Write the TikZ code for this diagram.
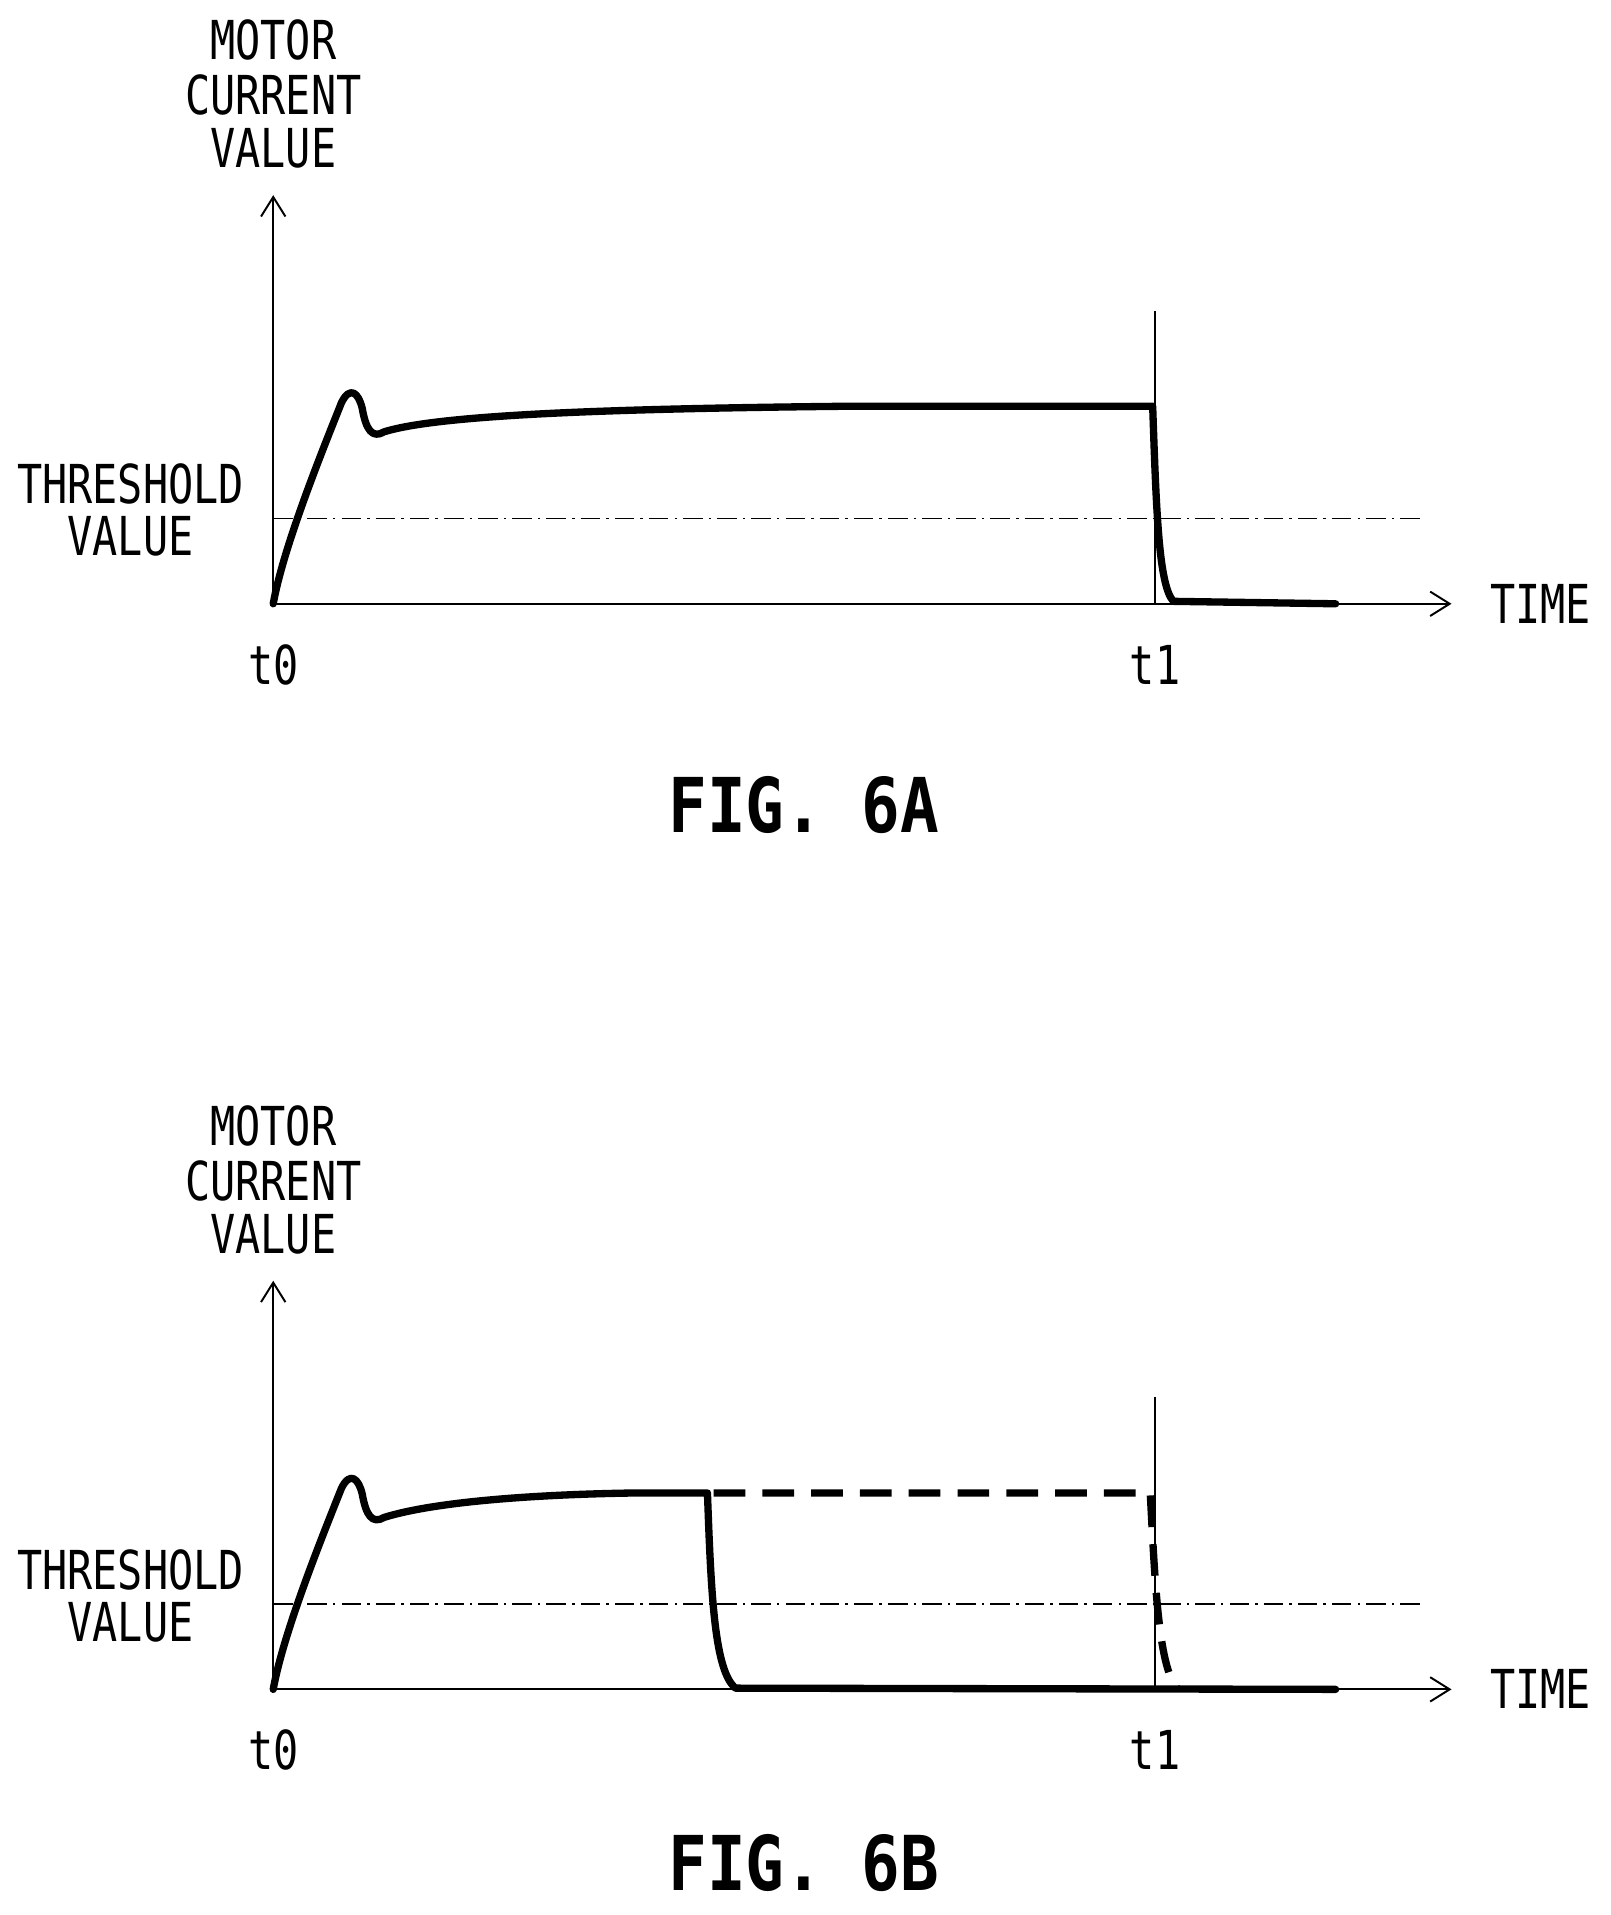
\documentclass[tikz,border=0pt]{standalone}
\usepackage{fontspec}
\setmainfont{DejaVu Sans Mono}
\usetikzlibrary{arrows.meta}
\begin{document}
\begin{tikzpicture}[x=1pt,y=-1pt,
 lbl/.style={font=\fontsize{44}{50}\selectfont, xscale=0.78, inner sep=0},
 fig/.style={font=\fontsize{62}{66}\selectfont\bfseries, xscale=0.85, inner sep=0},
 ax/.style={line width=1.6pt},
 arr/.style={ax,-{Straight Barb[length=16pt,width=20pt,line width=1.6pt]}},
 curve/.style={line width=6pt, line cap=round, line join=round},
 thr/.style={line width=1.4pt, dash pattern=on 16pt off 5pt on 2pt off 5pt}]
\useasboundingbox (0,0) rectangle (1320,1570);
\foreach \oy/\nm in {0/A,890/B}{
\begin{scope}[yshift=-\oy pt]
\node[lbl] (m\nm) at (224,33) {MOTOR};
\node[lbl] (c\nm) at (224,78) {CURRENT};
\node[lbl] (v\nm) at (224,122) {VALUE};
\node[lbl] (th\nm) at (107,397) {THRESHOLD};
\node[lbl] (tv\nm) at (107,440) {VALUE};
\node[lbl] (tz\nm) at (224,545) {t0};
\node[lbl] (to\nm) at (947,545) {t1};
\node[lbl] (ti\nm) at (1263,495) {TIME};
\coordinate (o\nm) at (224,495);
\coordinate (yt\nm) at (224,160);
\coordinate (xt\nm) at (1190,495);
\coordinate (lt\nm) at (947,255);
\coordinate (lb\nm) at (947,495);
\coordinate (h1\nm) at (224,425);
\coordinate (h2\nm) at (1165,425);
\draw[arr] (o\nm) -- (yt\nm);
\draw[arr] (o\nm) -- (xt\nm);
\draw[ax] (lt\nm) -- (lb\nm);
\draw[thr] (h1\nm) -- (h2\nm);
\end{scope}}
\node[fig] (fa) at (659,660) {FIG.\ 6A};
\node[fig] (fb) at (659,1527) {FIG.\ 6B};
% curve A
\draw[curve] (224,495) .. controls (232,450) and (262,375) .. (280,330)
 .. controls (287,316) and (294,322) .. (297,335)
 .. controls (300,352) and (305,360) .. (315,354)
 .. controls (360,340) and (500,335) .. (700,333) -- (945,333)
 .. controls (948,420) and (950,480) .. (962,493) -- (1095,495);
% curve B
\draw[curve] (224,1385) .. controls (232,1340) and (262,1265) .. (280,1220)
 .. controls (287,1206) and (294,1212) .. (297,1225)
 .. controls (300,1242) and (305,1250) .. (315,1244)
 .. controls (360,1230) and (450,1225) .. (520,1224) -- (580,1224)
 .. controls (583,1310) and (586,1370) .. (603,1384) -- (1095,1385);
\draw[curve, line cap=butt, dash pattern=on 26pt off 14pt] (585,1224) -- (943,1224)
 .. controls (947,1300) and (950,1370) .. (966,1385);
\end{tikzpicture}
\end{document}
